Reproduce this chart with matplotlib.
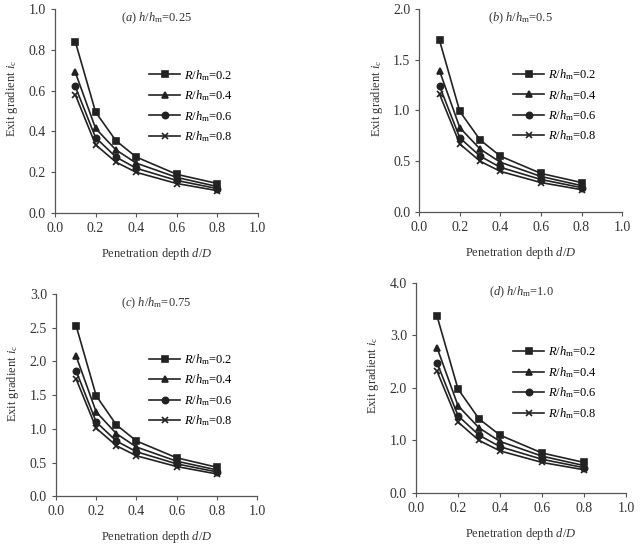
import matplotlib.pyplot as plt

plt.rcParams['font.family'] = 'Liberation Serif'
plt.rcParams['mathtext.fontset'] = 'custom'
plt.rcParams['mathtext.rm'] = 'Liberation Serif'
plt.rcParams['mathtext.it'] = 'Liberation Serif:italic'

depth = [0.1, 0.2, 0.3, 0.4, 0.6, 0.8]
ratios = ['0.2', '0.4', '0.6', '0.8']
markers = ['s', '^', 'o', 'x']

# panel (a) h/hm = 0.25
a_vals = [
    [0.84, 0.495, 0.355, 0.275, 0.19, 0.145],
    [0.69, 0.415, 0.31, 0.245, 0.175, 0.13],
    [0.62, 0.37, 0.275, 0.22, 0.16, 0.12],
    [0.58, 0.335, 0.25, 0.20, 0.145, 0.11],
]
# panel (b) h/hm = 0.5
b_vals = [
    [1.69, 0.99, 0.71, 0.55, 0.38, 0.29],
    [1.39, 0.83, 0.62, 0.49, 0.35, 0.26],
    [1.24, 0.73, 0.55, 0.44, 0.32, 0.24],
    [1.16, 0.67, 0.50, 0.40, 0.29, 0.22],
]
# panel (c) h/hm = 0.75
c_vals = [
    [2.53, 1.49, 1.06, 0.82, 0.57, 0.43],
    [2.08, 1.25, 0.93, 0.73, 0.52, 0.39],
    [1.86, 1.10, 0.82, 0.66, 0.48, 0.36],
    [1.74, 1.01, 0.75, 0.60, 0.44, 0.33],
]
# panel (d) h/hm = 1.0
d_vals = [
    [3.37, 1.98, 1.41, 1.10, 0.76, 0.58],
    [2.77, 1.66, 1.24, 0.98, 0.70, 0.52],
    [2.48, 1.47, 1.10, 0.88, 0.64, 0.48],
    [2.32, 1.35, 1.00, 0.80, 0.58, 0.44],
]

panels = [
    ('(a)', '0.25', a_vals, 1.0, 0.2, [0.0854, 0.616, 0.315, 0.368]),
    ('(b)', '0.5', b_vals, 2.0, 0.5, [0.651, 0.618, 0.315, 0.366]),
    ('(c)', '0.75', c_vals, 3.0, 0.5, [0.087, 0.106, 0.312, 0.364]),
    ('(d)', '1.0', d_vals, 4.0, 1.0, [0.646, 0.112, 0.326, 0.378]),
]

fig = plt.figure(figsize=(6.44, 5.55), dpi=100)

for tag, hval, vals, ymax, ystep, rect in panels:
    ax = fig.add_axes(rect)
    for i, r in enumerate(ratios):
        ax.plot(depth, vals[i], color='#222222', lw=1.2, marker=markers[i],
                ms=4.5, mew=1.2, label=r'$R/h_{\mathrm{m}}$=' + r)
    ax.set_xlim(0, 1.0)
    ax.set_ylim(0, ymax)
    xt = [0.0, 0.2, 0.4, 0.6, 0.8, 1.0]
    ax.set_xticks(xt)
    yt = []
    v = 0.0
    while v <= ymax + 1e-9:
        yt.append(round(v, 2))
        v += ystep
    ax.set_yticks(yt)
    ax.set_xticklabels(['%.1f' % t for t in xt])
    ax.set_yticklabels(['%.1f' % t for t in yt])
    ax.spines['top'].set_visible(False)
    ax.spines['right'].set_visible(False)
    for s in ['left', 'bottom']:
        ax.spines[s].set_color('#555555')
        ax.spines[s].set_linewidth(0.9)
    ax.tick_params(direction='out', length=3, width=0.8, colors='#555555',
                   labelcolor='#333333', labelsize=10)
    ax.set_xlabel(r'Penetration depth $d/D$', fontsize=9, color='#333333', labelpad=8)
    ax.set_ylabel(r'Exit gradient $i_{\mathrm{c}}$', fontsize=9, color='#333333',
                  labelpad=6)
    ax.yaxis.label.set_y(0.56)
    ax.text(0.5, 0.955, r'$' + tag + r'\ h/h_{\mathrm{m}}$=' + hval,
            transform=ax.transAxes, ha='center', va='center', fontsize=9,
            color='#333333')
    ax.legend(loc='center left', bbox_to_anchor=(0.42, 0.525), frameon=False,
              fontsize=9, handlelength=2.5, handletextpad=0.3,
              labelspacing=0.45, borderpad=0.2)

fig.savefig('out.png', dpi=100)
